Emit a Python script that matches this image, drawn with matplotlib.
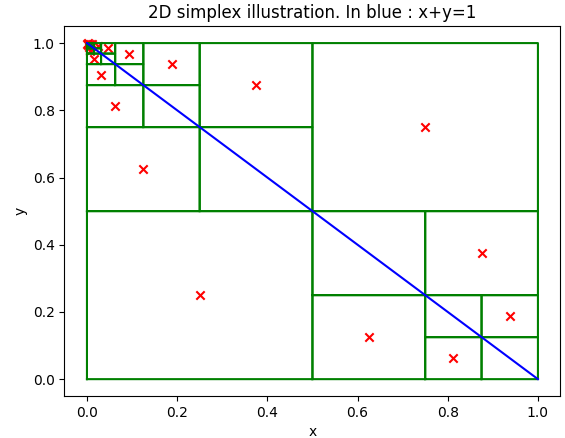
import matplotlib
matplotlib.use("Agg")
import matplotlib.pyplot as plt

# leaf boxes of the subdivision: lower-left corner and side length
box_x0 = [0.0, 0.5,
          0.5, 0.75, 0.5,
          0.75, 0.875, 0.75, 0.875,
          0.0, 0.25, 0.25,
          0.0, 0.125, 0.125,
          0.0, 0.0625, 0.0625,
          0.0, 0.03125, 0.03125,
          0.0, 0.015625, 0.015625,
          0.0, 0.0078125, 0.0078125,
          0.0, 0.00390625, 0.00390625,
          0.0, 0.001953125, 0.001953125,
          0.0]
box_y0 = [0.0, 0.5,
          0.0, 0.25, 0.25,
          0.0, 0.125, 0.125, 0.0,
          0.5, 0.75, 0.5,
          0.75, 0.875, 0.75,
          0.875, 0.9375, 0.875,
          0.9375, 0.96875, 0.9375,
          0.96875, 0.984375, 0.96875,
          0.984375, 0.9921875, 0.984375,
          0.9921875, 0.99609375, 0.9921875,
          0.99609375, 0.998046875, 0.99609375,
          0.998046875]
box_size = [0.5, 0.5,
            0.25, 0.25, 0.25,
            0.125, 0.125, 0.125, 0.125,
            0.25, 0.25, 0.25,
            0.125, 0.125, 0.125,
            0.0625, 0.0625, 0.0625,
            0.03125, 0.03125, 0.03125,
            0.015625, 0.015625, 0.015625,
            0.0078125, 0.0078125, 0.0078125,
            0.00390625, 0.00390625, 0.00390625,
            0.001953125, 0.001953125, 0.001953125,
            0.001953125]

# evaluated centres (red crosses)
pts_x = [0.25, 0.75,
         0.625, 0.875,
         0.8125, 0.9375,
         0.125, 0.375,
         0.0625, 0.1875,
         0.03125, 0.09375,
         0.015625, 0.046875,
         0.0078125, 0.0234375,
         0.00390625, 0.01171875,
         0.001953125, 0.005859375,
         0.0009765625, 0.0029296875]
pts_y = [0.25, 0.75,
         0.125, 0.375,
         0.0625, 0.1875,
         0.625, 0.875,
         0.8125, 0.9375,
         0.90625, 0.96875,
         0.953125, 0.984375,
         0.9765625, 0.9921875,
         0.98828125, 0.99609375,
         0.994140625, 0.998046875,
         0.9970703125, 0.9990234375]

simplex_x = [0.0, 1.0]
simplex_y = [1.0, 0.0]

fig = plt.figure(figsize=(5.65, 4.38), dpi=100)
ax = fig.add_axes([0.114, 0.096, 0.878, 0.844])

ax.scatter(pts_x, pts_y, c="r", marker="x")
for x0, y0, w in zip(box_x0, box_y0, box_size):
    ax.plot([x0, x0 + w, x0 + w, x0, x0], [y0, y0, y0 + w, y0 + w, y0],
            "g-", snap=False)
ax.plot(simplex_x, simplex_y, "b-")

ax.set_xlim(-0.05, 1.05)
ax.set_ylim(-0.05, 1.05)
ax.set_title("2D simplex illustration. In blue : x+y=1")
ax.set_xlabel("x")
ax.set_ylabel("y")

fig.savefig("out.png", dpi=100)
